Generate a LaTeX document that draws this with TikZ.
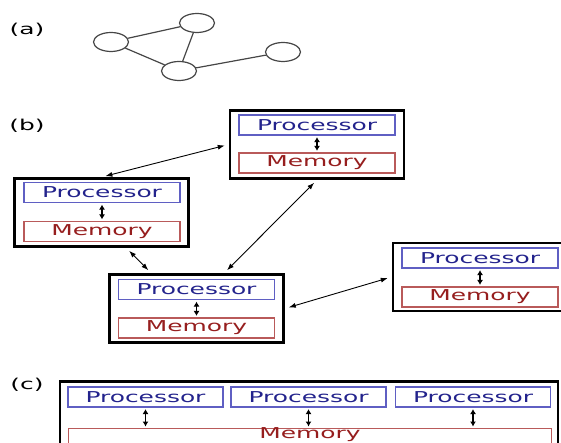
\documentclass[tikz,border=0pt]{standalone}
\usepackage{fontspec}
\newfontfamily\wideface[FakeStretch=1.66]{DejaVu Sans}
\definecolor{procblue}{RGB}{95, 95, 195}
\definecolor{proctext}{RGB}{35, 35, 140}
\definecolor{memred}{RGB}{185, 90, 90}
\definecolor{memtext}{RGB}{150, 30, 30}
\definecolor{edgegray}{RGB}{70, 70, 70}
\usetikzlibrary{positioning, arrows.meta, shapes.geometric}

\tikzset{
  vertex/.style={draw=edgegray, line width=1.2pt, ellipse, minimum width=35pt, minimum height=19pt, inner sep=0pt},
  machine/.style={draw=black, line width=2.8pt, inner sep=0pt, minimum width=174pt, minimum height=68pt},
  procbox/.style={draw=procblue, line width=1.1pt, text=proctext, inner sep=0pt, minimum width=156pt, minimum height=20pt},
  membox/.style={draw=memred, line width=1.1pt, text=memtext, inner sep=0pt, minimum width=156pt, minimum height=20pt},
  bus/.style={{Latex[length=5pt,width=6pt]}-{Latex[length=5pt,width=6pt]}, line width=1.8pt},
  link/.style={{Latex[length=7pt,width=5pt]}-{Latex[length=7pt,width=5pt]}, line width=0.9pt, shorten <=4pt, shorten >=4pt},
}

\begin{document}
\begin{tikzpicture}[x=1pt, y=-1pt, every node/.style={font=\wideface\fontsize{15}{16}\selectfont}]
        \clip (0, 0) rectangle (561, 443);
        % (a) graph
        \node (la) at (27, 30) {(a)};
        \node[vertex] (v1) at (111, 42) {};
        \node[vertex] (v2) at (197, 23) {};
        \node[vertex] (v3) at (179, 71) {};
        \node[vertex] (v4) at (283, 52) {};
        \draw[edgegray, line width=1.2pt] (v1) -- (v2) (v1) -- (v3) (v2) -- (v3) (v3) -- (v4);
        % (b) distributed machines
        \node (lb) at (27, 126) {(b)};
        \node[machine] (top) at (317, 144.5) {};
        \node[procbox] (topp) at (317, 125) {Processor};
        \node[membox] (topm) at (317, 163) {Memory};
        \node[machine] (left) at (101.5, 212.5) {};
        \node[procbox] (leftp) at (102, 192.5) {Processor};
        \node[membox] (leftm) at (102, 231.5) {Memory};
        \node[machine] (mid) at (196.5, 308.5) {};
        \node[procbox] (midp) at (196.5, 289.5) {Processor};
        \node[membox] (midm) at (196.5, 328) {Memory};
        \node[machine] (right) at (480, 277) {};
        \node[procbox] (rightp) at (480, 258) {Processor};
        \node[membox] (rightm) at (480, 297) {Memory};
        \foreach \m in {top, left, mid, right}
          \draw[bus] ([yshift=-1.5pt]\m p.south) -- ([yshift=1.5pt]\m m.north);
        % network links
        \draw[link] (left.north) -- (top.west);
        \draw[link] (left.-55) -- (mid.142);
        \draw[link] (top.south) -- (mid.52);
        \draw[link] (mid.east) -- (right.west);
        % (c) shared memory
        \node (lc) at (27, 385) {(c)};
        \node[machine, minimum width=498pt, minimum height=100pt, anchor=north west] (shared) at (58.5, 380) {};
        \node[procbox, minimum width=155pt] (cp1) at (145.5, 397) {Processor};
        \node[procbox, minimum width=155pt] (cp2) at (308.5, 397) {Processor};
        \node[procbox, minimum width=155pt] (cp3) at (473, 397) {Processor};
        \node[membox, minimum width=483pt, text height=9.5pt, text depth=10.5pt, anchor=north west] (cm) at (68, 428) {Memory};
        \foreach \i in {1, 2, 3}
          \draw[bus] ([yshift=-1.5pt]cp\i.south) -- ([yshift=1.5pt]cp\i.south |- cm.north);
      \end{tikzpicture}
\end{document}
